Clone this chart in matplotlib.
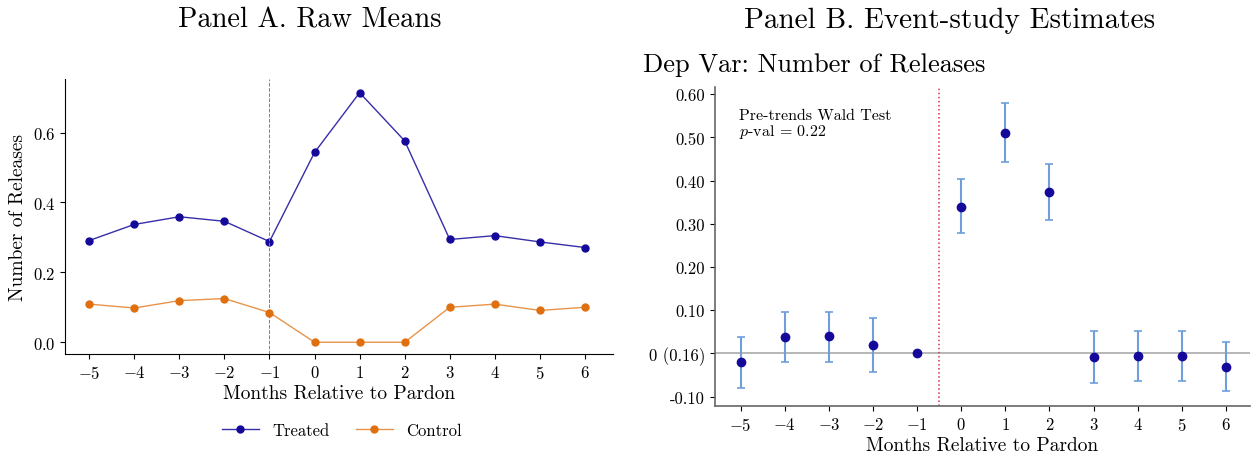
import matplotlib
matplotlib.use("Agg")
import matplotlib.pyplot as plt
from matplotlib.colors import to_rgba

plt.rcParams['font.family'] = 'serif'
plt.rcParams['font.serif'] = ['cmr10', 'DejaVu Serif']
plt.rcParams['mathtext.fontset'] = 'cm'
plt.rcParams['axes.formatter.use_mathtext'] = True

# Panel A: raw means
months = [-5, -4, -3, -2, -1, 0, 1, 2, 3, 4, 5, 6]
treated = [0.291, 0.337, 0.359, 0.346, 0.288, 0.543, 0.714, 0.576, 0.294, 0.305, 0.287, 0.271]
control = [0.109, 0.098, 0.119, 0.125, 0.085, 0.0, 0.0, 0.0, 0.100, 0.109, 0.091, 0.100]

# Panel B: event-study estimates with CI bounds
coef = [-0.021, 0.038, 0.040, 0.019, 0.0, 0.340, 0.511, 0.374, -0.008, -0.006, -0.006, -0.031]
ci_lo = [-0.079, -0.021, -0.019, -0.044, 0.0, 0.278, 0.443, 0.309, -0.069, -0.065, -0.065, -0.088]
ci_hi = [0.037, 0.097, 0.097, 0.083, 0.0, 0.404, 0.579, 0.439, 0.053, 0.053, 0.053, 0.026]
ytick_vals = [-0.10, 0.0, 0.10, 0.20, 0.30, 0.40, 0.50, 0.60]
ytick_labels = ['-0.10', '0 (0.16)', '0.10', '0.20', '0.30', '0.40', '0.50', '0.60']

c_treat = '#14099a'
c_ctrl = '#e0700f'
c_err = '#6f9edb'

fig = plt.figure(figsize=(12.56, 4.6), dpi=100)

# ---- Panel A
ax1 = fig.add_axes([0.052, 0.228, 0.436, 0.598])
ax1.plot(months, treated, color=to_rgba(c_treat, 0.85), lw=1.0, marker='o', ms=5,
         mfc=c_treat, mec=c_treat, label='Treated')
ax1.plot(months, control, color=to_rgba(c_ctrl, 0.75), lw=1.0, marker='o', ms=5,
         mfc=c_ctrl, mec=c_ctrl, label='Control')
ax1.axvline(-1, color='gray', ls='--', lw=0.7)
ax1.set_xlim(-5.53, 6.62)
ax1.set_ylim(-0.034, 0.753)
ax1.set_xticks(months)
ax1.set_yticks([0.0, 0.2, 0.4, 0.6])
ax1.set_xlabel('Months Relative to Pardon', fontsize=14, labelpad=2)
ax1.set_ylabel('Number of Releases', fontsize=14, labelpad=4)
ax1.tick_params(labelsize=12)
ax1.spines['top'].set_visible(False)
ax1.spines['right'].set_visible(False)
ax1.legend(loc='upper center', bbox_to_anchor=(0.505, -0.195), ncol=2, frameon=False,
           fontsize=12, columnspacing=1.6, handlelength=2.2)
fig.text(0.247, 0.955, 'Panel A. Raw Means', fontsize=20.5, ha='center', va='center')

# ---- Panel B
ax2 = fig.add_axes([0.569, 0.115, 0.426, 0.693])
ax2.axhline(0, color='#aaaaaa', lw=1.2, zorder=1)
ax2.axvline(-0.5, color='#d8304a', ls=':', lw=1.1, zorder=1)
yerr = [[c - lo for c, lo in zip(coef, ci_lo)], [hi - c for c, hi in zip(coef, ci_hi)]]
ax2.errorbar(months, coef, yerr=yerr, fmt='none', ecolor=c_err, elinewidth=1.5,
             capsize=3, capthick=1.2, zorder=2)
ax2.scatter(months, coef, color=c_treat, s=36, zorder=3)
ax2.set_xlim(-5.59, 6.54)
ax2.set_ylim(-0.122, 0.616)
ax2.set_xticks(months)
ax2.set_yticks(ytick_vals)
ax2.set_yticklabels(ytick_labels)
ax2.set_xlabel('Months Relative to Pardon', fontsize=14, labelpad=2)
ax2.tick_params(labelsize=12)
for s in ['top', 'right']:
    ax2.spines[s].set_visible(False)
for s in ['left', 'bottom']:
    ax2.spines[s].set_color('#666666')
    ax2.spines[s].set_linewidth(1.2)
ax2.text(0.045, 0.935, 'Pre-trends Wald Test\n$p$-val = 0.22', transform=ax2.transAxes,
         fontsize=11.5, va='top', ha='left', linespacing=1.0)
fig.text(0.512, 0.858, 'Dep Var: Number of Releases', fontsize=19, ha='left', va='center')
fig.text(0.756, 0.955, 'Panel B. Event-study Estimates', fontsize=21, ha='center', va='center')

fig.savefig('out.png', dpi=100)
